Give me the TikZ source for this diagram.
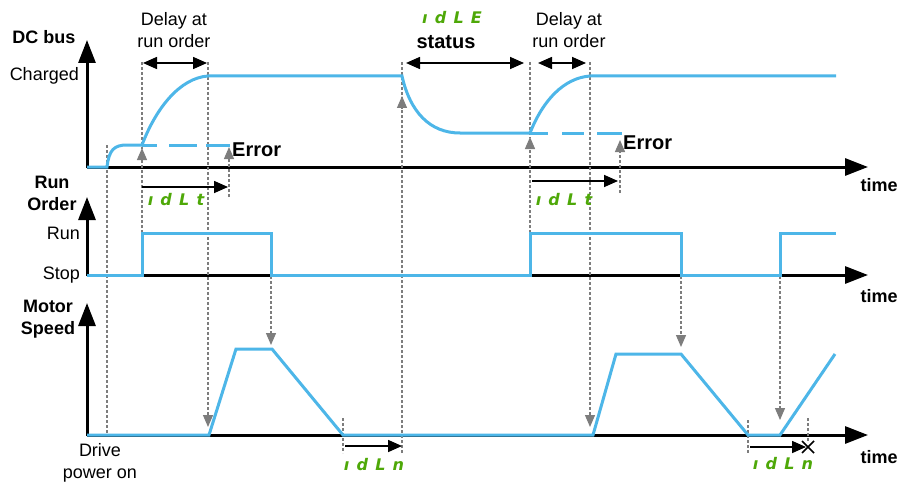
\documentclass[tikz,border=0pt]{standalone}
\usepackage{fontspec}
\setmainfont{Liberation Sans}
\newfontfamily\segfont[LetterSpace=45]{DejaVu Sans}
\usetikzlibrary{arrows.meta}
\definecolor{sigblue}{RGB}{77,182,232}
\definecolor{seggreen}{RGB}{78,168,8}
\definecolor{guide}{RGB}{125,125,125}
\begin{document}
\begin{tikzpicture}[x=1pt,y=-1pt,
  axis/.style={line width=3pt, -{Triangle[length=23pt,width=17pt]}},
  sig/.style={draw=sigblue, line width=3pt},
  guideline/.style={draw=guide, line width=1.3pt, dash pattern=on 3pt off 2pt},
  guidearrow/.style={guideline, -{Triangle[length=12pt,width=10pt]}},
  span/.style={line width=1.6pt, -{Triangle[length=14pt,width=12pt]}},
  dspan/.style={line width=1.6pt, {Triangle[length=14pt,width=12pt]}-{Triangle[length=14pt,width=12pt]}},
  lbl/.style={inner sep=0pt, font={\fontsize{18}{22}\selectfont}},
  blbl/.style={inner sep=0pt, font={\fontsize{18}{22}\selectfont\bfseries}},
  bigbl/.style={inner sep=0pt, font={\fontsize{20}{24}\selectfont\bfseries}},
  seg/.style={inner sep=0pt, text=seggreen, font={\fontsize{16}{18}\selectfont\segfont\bfseries\itshape}}
]
\useasboundingbox (0,0) rectangle (909,484);

% axes
\draw[axis] (87,167) -- (868,167);
\draw[axis] (87,168) -- (87,40);
\draw[axis] (87,275) -- (868,275);
\draw[axis] (87,276) -- (87,197);
\draw[axis] (87,435) -- (868,435);
\draw[axis] (87,436) -- (87,303);

% guide lines
\draw[guideline] (107,145) -- (107,435);
\draw[guideline] (142,62) -- (142,149);
\draw[guidearrow] (142,233) -- (142,148);
\draw[guidearrow] (208,62) -- (208,427);
\draw[guidearrow] (229,197) -- (229,147);
\draw[guidearrow] (271,276) -- (271,345);
\draw[guideline] (343,418) -- (343,453);
\draw[guideline] (402,62) -- (402,98);
\draw[guidearrow] (402,453) -- (402,96);
\draw[guideline] (530,62) -- (530,138);
\draw[guidearrow] (530,233) -- (530,137);
\draw[guidearrow] (590,62) -- (590,427);
\draw[guidearrow] (620,193) -- (620,140);
\draw[guidearrow] (681,276) -- (681,347);
\draw[guidearrow] (780,276) -- (780,420);
\draw[guideline] (748,420) -- (748,453);
\draw[guideline] (808,418) -- (808,442);

% signals
\draw[sig] (87,167) -- (107,167) .. controls (109,150) and (114,145) .. (127,145) -- (142,145)
  .. controls (156,108) and (180,78) .. (208,76) -- (402,76)
  .. controls (410,112) and (430,133) .. (460,133) -- (530,133)
  .. controls (543,100) and (564,78) .. (590,76) -- (836,76);
\draw[sig, dash pattern=on 15pt off 12pt on 28pt off 9pt on 24pt off 100pt] (142,145) -- (230,145);
\draw[sig, dash pattern=on 18pt off 14pt on 22pt off 13pt on 25pt off 100pt] (530,133) -- (623,133);
\draw[sig] (87,275) -- (142,275) -- (142,233) -- (271,233) -- (271,275) -- (530,275) -- (530,233)
  -- (681,233) -- (681,275) -- (780,275) -- (780,233) -- (836,233);
\draw[sig] (87,435) -- (209,435) -- (236,349) -- (272,349) -- (343,435) -- (593,435) -- (616,354)
  -- (681,354) -- (748,435) -- (780,435) -- (835,354);

% span arrows
\draw[dspan] (143,63) -- (207,63);
\draw[dspan] (406,63) -- (524,63);
\draw[dspan] (538,63) -- (586,63);
\draw[span] (142,187) -- (228,187);
\draw[span] (532,181) -- (618,181);
\draw[span] (345,446) -- (402,446);
\draw[span] (750,447) -- (806,447);
\draw[line width=1.6pt] (802,441) -- (814,453) (802,453) -- (814,441);

% labels
\node[blbl] (dcbus) at (44,37) {DC bus};
\node[lbl, anchor=east] (charged) at (79,76) {Charged};
\node[blbl, align=center] (runorder) at (52,193) {Run\\Order};
\node[lbl, anchor=east] (run) at (80,233) {Run};
\node[lbl, anchor=east] (stop) at (80,275) {Stop};
\node[blbl, align=center] (motor) at (48,319) {Motor\\Speed};
\node[lbl, align=center] (drive) at (100,463) {Drive\\power on};
\node[blbl] (t1) at (879,185) {time};
\node[blbl] (t2) at (879,296) {time};
\node[blbl] (t3) at (879,457) {time};
\node[lbl, align=center] (delay1) at (174,30) {Delay at\\run order};
\node[lbl, align=center] (delay2) at (569,30) {Delay at\\run order};
\node[bigbl] (status) at (446,42) {status};
\node[bigbl, anchor=west] (err1) at (232,150) {Error};
\node[bigbl, anchor=west] (err2) at (623,143) {Error};
\node[seg] (idle) at (452,18) {ıdLE};
\node[seg] (idlt1) at (176,200) {ıdLt};
\node[seg] (idlt2) at (564,200) {ıdLt};
\node[seg] (idln1) at (374,465) {ıdLn};
\node[seg] (idln2) at (783,464) {ıdLn};
\end{tikzpicture}
\end{document}
